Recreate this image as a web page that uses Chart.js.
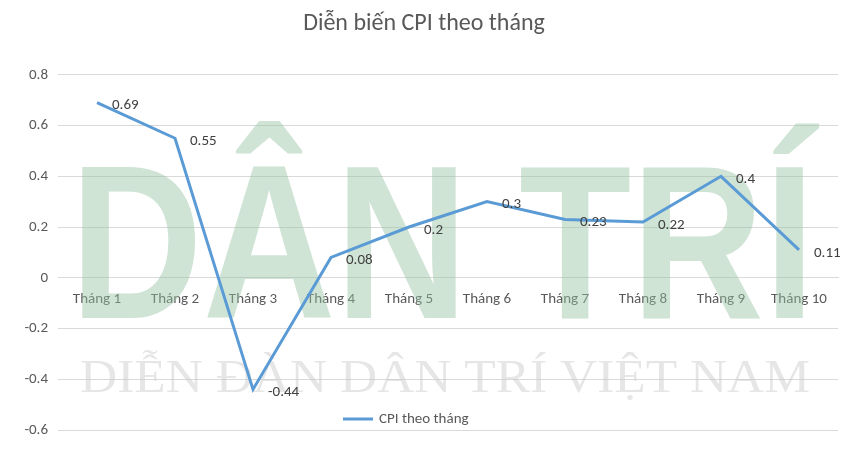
<!DOCTYPE html>
<html>
<head>
<meta charset="utf-8">
<script src="https://cdn.jsdelivr.net/npm/chart.js@4"></script>
<style>
  body { margin: 0; background: #fff; }
  #wrap { width: 848px; height: 449px; }
</style>
</head>
<body>
<div id="wrap"><canvas id="cpiChart"></canvas></div>
<script>
const months = ["Tháng 1", "Tháng 2", "Tháng 3", "Tháng 4", "Tháng 5", "Tháng 6", "Tháng 7", "Tháng 8", "Tháng 9", "Tháng 10"];
const cpiValues = [0.69, 0.55, -0.44, 0.08, 0.2, 0.3, 0.23, 0.22, 0.4, 0.11];
const seriesName = "CPI theo tháng";

const font = "Calibri, Carlito, 'Open Sans', sans-serif";

// faint watermark behind the plot
const watermark = {
  id: "watermark",
  beforeDatasetsDraw(chart) {
    const c = chart.ctx;
    c.save();
    c.fillStyle = "rgba(150, 195, 165, 0.45)";
    c.font = "bold 200px 'Liberation Sans Narrow', 'Liberation Sans', sans-serif";
    c.textBaseline = "alphabetic";
    const w = c.measureText("DÂN TRÍ").width;
    c.translate(70, 318);
    c.scale(745 / w, 1.1);
    c.fillText("DÂN TRÍ", 0, 0);
    c.restore();
    c.save();
    c.fillStyle = "rgba(200, 200, 200, 0.45)";
    c.font = "46px 'Liberation Serif', serif";
    const w2 = c.measureText("DIỄN ĐÀN DÂN TRÍ VIỆT NAM").width;
    c.translate(80, 392);
    c.scale(730 / w2, 1);
    c.fillText("DIỄN ĐÀN DÂN TRÍ VIỆT NAM", 0, 0);
    c.restore();
  },
};

// value labels + legend drawn inside the plot
const labelsAndLegend = {
  id: "labelsAndLegend",
  afterDatasetsDraw(chart) {
    const c = chart.ctx;
    const meta = chart.getDatasetMeta(0);
    c.save();
    c.fillStyle = "#404040";
    c.font = "15px " + font;
    c.textBaseline = "middle";
    meta.data.forEach((pt, i) => {
      c.fillText(String(cpiValues[i]), pt.x + 15, pt.y + 3);
    });
    c.strokeStyle = "#5b9bd5";
    c.lineWidth = 3;
    c.beginPath();
    c.moveTo(343, 419);
    c.lineTo(373, 419);
    c.stroke();
    c.fillStyle = "#595959";
    c.fillText(seriesName, 379, 419);
    c.restore();
  },
};

new Chart(document.getElementById("cpiChart"), {
  type: "line",
  data: {
    labels: months,
    datasets: [
      {
        label: seriesName,
        data: cpiValues,
        borderColor: "#5b9bd5",
        borderWidth: 3,
        pointRadius: 0,
        tension: 0,
      },
    ],
  },
  options: {
    responsive: true,
    maintainAspectRatio: false,
    animation: false,
    layout: { padding: { top: 0, right: 10, bottom: 4, left: 10 } },
    plugins: {
      legend: { display: false },
      tooltip: { enabled: false },
      title: {
        display: true,
        text: "Diễn biến CPI theo tháng",
        color: "#595959",
        font: { family: font, size: 24, weight: "normal" },
        padding: { top: 10, bottom: 36 },
      },
    },
    scales: {
      x: {
        position: { y: 0 },
        offset: true,
        grid: { display: false, drawTicks: false },
        border: { color: "#d9d9d9" },
        ticks: { color: "#595959", font: { family: font, size: 15 }, padding: 12 },
      },
      y: {
        min: -0.6,
        max: 0.8,
        afterFit(scale) { scale.width = 48; },
        ticks: {
          stepSize: 0.2,
          color: "#595959",
          font: { family: font, size: 15 },
          padding: 10,
          callback: (v) => Math.round(v * 10) / 10,
        },
        grid: { color: "#d9d9d9", drawTicks: false },
        border: { display: false },
      },
    },
  },
  plugins: [watermark, labelsAndLegend],
});
</script>
</body>
</html>
